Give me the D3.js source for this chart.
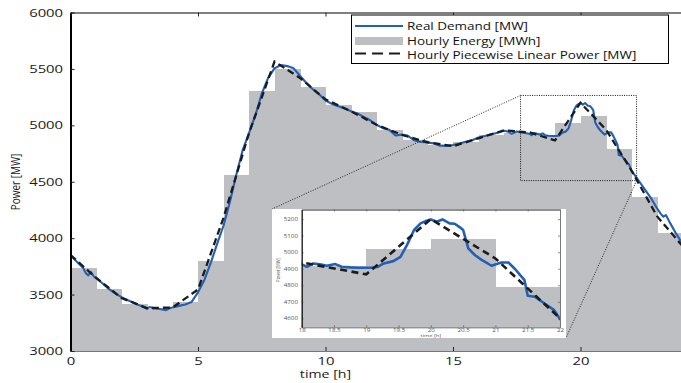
<!DOCTYPE html>
<html>
<head>
<meta charset="utf-8">
<script src="https://cdn.jsdelivr.net/npm/d3@7"></script>
<style>
  body { margin: 0; background: #fff; }
  svg { display: block; }
</style>
</head>
<body>
<div id="chart"></div>
<script>
// real demand (hour, MW)
const demandHours = [0, 0.25, 0.5, 0.6, 0.7, 0.8, 0.9, 1, 1.25, 1.5, 1.75, 2, 2.25, 2.5, 2.75,
  3, 3.1, 3.25, 3.5, 3.75, 3.9, 4, 4.25, 4.5, 4.75, 5, 5.25, 5.5, 5.75, 6, 6.25, 6.5, 6.75,
  7, 7.25, 7.5, 7.75, 8, 8.25, 8.5, 8.75, 9, 9.25, 9.5, 9.75, 10, 10.25, 10.5, 10.75,
  11, 11.25, 11.5, 11.75, 12, 12.25, 12.5, 12.75, 13, 13.2, 13.5, 13.75, 14, 14.25, 14.5, 14.75,
  15, 15.25, 15.5, 15.75, 16, 16.25, 16.5, 16.75, 17, 17.15, 17.3, 17.5, 17.75,
  18, 18.08, 18.18, 18.3, 18.39, 18.52, 18.62, 18.75, 18.86, 19.06, 19.17, 19.27, 19.42, 19.53,
  19.63, 19.74, 19.84, 19.92, 20, 20.09, 20.18, 20.29, 20.37, 20.45, 20.5, 20.58, 20.68, 20.8,
  20.94, 21.09, 21.2, 21.3, 21.45, 21.5, 21.61, 21.76, 21.91, 22,
  22.25, 22.5, 22.75, 23, 23.15, 23.25, 23.35, 23.5, 23.75, 24];
const demandMW = [3850, 3790, 3735, 3690, 3670, 3700, 3665, 3645, 3600, 3550, 3510, 3478, 3450, 3425, 3400,
  3373, 3390, 3380, 3372, 3362, 3380, 3385, 3400, 3413, 3435, 3520, 3630, 3780, 3950, 4110, 4320, 4560, 4780,
  4930, 5090, 5280, 5420, 5505, 5535, 5525, 5505, 5440, 5375, 5320, 5275, 5220, 5190, 5170, 5150,
  5125, 5105, 5075, 5045, 5005, 4975, 4960, 4910, 4918, 4910, 4865, 4852, 4848, 4840, 4820, 4818,
  4825, 4838, 4855, 4868, 4892, 4905, 4920, 4935, 4952, 4945, 4925, 4945, 4935,
  4926, 4912, 4932, 4925, 4918, 4928, 4912, 4908, 4906, 4906, 4910, 4932, 4946, 4972,
  5043, 5134, 5174, 5188, 5198, 5184, 5198, 5174, 5172, 5150, 5134, 5023, 4983, 4950,
  4918, 4938, 4938, 4900, 4831, 4737, 4731, 4690, 4650, 4596,
  4520, 4440, 4360, 4265, 4215, 4190, 4205, 4140, 4040, 3950];

// hourly energy, one value per hour 0..23
const energyMWh = [3736, 3550, 3418, 3373, 3432, 3801, 4562, 5305, 5500, 5340, 5181, 5117,
  4955, 4870, 4830, 4852, 4915, 4931, 4916, 5022, 5082, 4790, 4364, 4046];

// piecewise linear power at the full hours 0..24
const pwlMW = [3850, 3650, 3470, 3380, 3385, 3545, 4180, 4930, 5565, 5420, 5230, 5125, 5005,
  4915, 4850, 4815, 4885, 4955, 4938, 4866, 5200, 4962, 4600, 4195, 3930];

const xTicks = [0, 5, 10, 15, 20];
const yTicks = [3000, 3500, 4000, 4500, 5000, 5500, 6000];
const insetXTicks = [18, 18.5, 19, 19.5, 20, 20.5, 21, 21.5, 22];
const insetYTicks = [4600, 4700, 4800, 4900, 5000, 5100, 5200];
const zoomHours = [17.65, 22.2];
const zoomMW = [4510, 5265];
const insetHours = [18, 22];
const insetMW = [4546, 5258];
const legendLabels = ["Real Demand [MW]", "Hourly Energy [MWh]", "Hourly Piecewise Linear Power [MW]"];

const W = 681, H = 383;
const SX = 1.35; // the picture is stretched sideways, so is the text
const gray = "#bebfc3", blue = "#2160b3", dark = "#1b1b1b";
const font = "'Open Sans', sans-serif";
const plain = d => String(d);

const demand = demandHours.map((h, i) => [h, demandMW[i]]);
const pwl = pwlMW.map((v, i) => [i, v]);
const bars = energyMWh.map((v, i) => ({ h0: i, h1: i + 1, v: v }));

const svg = d3.select("#chart").append("svg")
  .attr("width", W).attr("height", H)
  .style("font-family", font);

const x = d3.scaleLinear().domain([0, 24]).range([70.5, 682.5]);
const y = d3.scaleLinear().domain([3000, 6000]).range([351, 12.5]);

function stretch(sel) {
  sel.each(function () {
    const t = d3.select(this);
    const old = t.attr("transform") || "";
    t.attr("transform", old + ` scale(${SX},1)`);
  });
}

// hourly energy bars
svg.append("g").selectAll("rect")
  .data(bars).enter().append("rect")
  .attr("x", d => x(d.h0))
  .attr("width", d => x(d.h1) - x(d.h0) + 0.5)
  .attr("y", d => y(d.v))
  .attr("height", d => y(3000) - y(d.v))
  .attr("fill", gray)
  .attr("shape-rendering", "crispEdges");

const line = d3.line().x(d => x(d[0])).y(d => y(d[1]));

svg.append("path").datum(demand)
  .attr("d", line)
  .attr("fill", "none").attr("stroke", blue).attr("stroke-width", 2.1)
  .attr("stroke-linejoin", "round");

svg.append("path").datum(pwl)
  .attr("d", line)
  .attr("fill", "none").attr("stroke", dark).attr("stroke-width", 2.3)
  .attr("stroke-dasharray", "7,4");

// axes
const xAxis = svg.append("g")
  .attr("transform", `translate(0,${y(3000)})`)
  .call(d3.axisBottom(x).tickValues(xTicks).tickFormat(plain)
    .tickSizeInner(-4).tickSizeOuter(0).tickPadding(6));
const yAxis = svg.append("g")
  .attr("transform", `translate(${x(0)},0)`)
  .call(d3.axisLeft(y).tickValues(yTicks).tickFormat(plain)
    .tickSizeInner(-4).tickSizeOuter(0).tickPadding(5.5));
svg.append("g")
  .attr("transform", `translate(0,${y(6000)})`)
  .call(d3.axisTop(x).tickValues(xTicks).tickSizeInner(-4).tickSizeOuter(0).tickFormat(""));

[xAxis, yAxis].forEach(a => {
  a.selectAll("text").attr("font-size", 11).attr("fill", "#1a1a1a").attr("font-family", font).call(stretch);
});
xAxis.select(".domain").attr("stroke", "#777");
yAxis.select(".domain").attr("stroke", "#000").attr("stroke-width", 2);
svg.selectAll(".tick line").attr("stroke", "#222");

svg.append("text")
  .attr("transform", `translate(${x(10)},378) scale(${SX},1)`)
  .attr("text-anchor", "middle").attr("font-size", 10.5).attr("fill", "#1a1a1a")
  .text("time [h]");
svg.append("text")
  .attr("transform", `translate(20,182) rotate(-90) scale(1,${SX})`)
  .attr("text-anchor", "middle").attr("font-size", 10).attr("fill", "#1a1a1a")
  .text("Power [MW]");

// zoom box on the main plot
svg.append("rect")
  .attr("x", x(zoomHours[0])).attr("y", y(zoomMW[1]))
  .attr("width", x(zoomHours[1]) - x(zoomHours[0]))
  .attr("height", y(zoomMW[0]) - y(zoomMW[1]))
  .attr("fill", "none").attr("stroke", "#111").attr("stroke-width", 1)
  .attr("stroke-dasharray", "1,1.3");

// inset
const inset = { left: 272, top: 209, right: 566, bottom: 338 };
const ix = d3.scaleLinear().domain(insetHours).range([301.7, 560]);
const iy = d3.scaleLinear().domain(insetMW).range([327.3, 209.5]);

svg.append("line")
  .attr("x1", x(zoomHours[0])).attr("y1", y(zoomMW[1]))
  .attr("x2", inset.left).attr("y2", inset.top)
  .attr("stroke", "#222").attr("stroke-dasharray", "1,1.5");
svg.append("line")
  .attr("x1", x(zoomHours[1])).attr("y1", y(zoomMW[0]))
  .attr("x2", inset.right).attr("y2", inset.bottom)
  .attr("stroke", "#222").attr("stroke-dasharray", "1,1.5");

svg.append("rect")
  .attr("x", inset.left).attr("y", inset.top)
  .attr("width", inset.right - inset.left).attr("height", inset.bottom - inset.top)
  .attr("fill", "#fff");

svg.append("clipPath").attr("id", "inclip").append("rect")
  .attr("x", ix(18)).attr("y", iy(insetMW[1]))
  .attr("width", ix(22) - ix(18)).attr("height", iy(insetMW[0]) - iy(insetMW[1]));

const ig = svg.append("g").attr("clip-path", "url(#inclip)");
ig.selectAll("rect")
  .data(bars).enter().append("rect")
  .attr("x", d => ix(d.h0))
  .attr("width", d => ix(d.h1) - ix(d.h0) + 0.5)
  .attr("y", d => iy(d.v))
  .attr("height", d => Math.max(0, iy(insetMW[0]) - iy(d.v)))
  .attr("fill", gray)
  .attr("shape-rendering", "crispEdges");

const iline = d3.line().x(d => ix(d[0])).y(d => iy(d[1]));
ig.append("path").datum(demand)
  .attr("d", iline)
  .attr("fill", "none").attr("stroke", blue).attr("stroke-width", 2.6)
  .attr("stroke-linejoin", "round");
ig.append("path").datum(pwl)
  .attr("d", iline)
  .attr("fill", "none").attr("stroke", dark).attr("stroke-width", 2.6)
  .attr("stroke-dasharray", "7,4.5");

const ixAxis = svg.append("g")
  .attr("transform", `translate(0,${iy(insetMW[0])})`)
  .call(d3.axisBottom(ix).tickValues(insetXTicks).tickFormat(plain)
    .tickSizeInner(-2).tickSizeOuter(0).tickPadding(1.5));
const iyAxis = svg.append("g")
  .attr("transform", `translate(${ix(18)},0)`)
  .call(d3.axisLeft(iy).tickValues(insetYTicks).tickFormat(plain)
    .tickSizeInner(-2).tickSizeOuter(0).tickPadding(2.8));
const itAxis = svg.append("g")
  .attr("transform", `translate(0,${iy(insetMW[1])})`)
  .call(d3.axisTop(ix).tickValues(insetXTicks).tickSizeInner(-2).tickSizeOuter(0).tickFormat(""));
const irAxis = svg.append("g")
  .attr("transform", `translate(${ix(22)},0)`)
  .call(d3.axisRight(iy).tickValues(insetYTicks).tickSizeInner(-2).tickSizeOuter(0).tickFormat(""));

[ixAxis, iyAxis].forEach(a => {
  a.selectAll("text").attr("font-size", 4.6).attr("fill", "#555").attr("font-family", font).call(stretch);
});
iyAxis.select(".domain").attr("stroke", "#111").attr("stroke-width", 1.3);
itAxis.select(".domain").attr("stroke", "#222");
ixAxis.select(".domain").attr("stroke", "#666");
irAxis.select(".domain").attr("stroke", "#777");
[ixAxis, iyAxis, itAxis, irAxis].forEach(a => a.selectAll(".tick line").attr("stroke", "#444").attr("stroke-width", 0.6));

svg.append("text")
  .attr("transform", `translate(${(ix(18) + ix(22)) / 2},336.5) scale(${SX},1)`)
  .attr("text-anchor", "middle").attr("font-size", 4.2).attr("fill", "#555")
  .text("time [h]");
svg.append("text")
  .attr("transform", `translate(280,270) rotate(-90) scale(1,${SX})`)
  .attr("text-anchor", "middle").attr("font-size", 4.2).attr("fill", "#555")
  .text("Power [MW]");

// legend
const lg = svg.append("g");
lg.append("rect")
  .attr("x", 351.5).attr("y", 15).attr("width", 317).attr("height", 48.5)
  .attr("fill", "#fff").attr("stroke", "#000").attr("stroke-width", 1);
lg.append("line").attr("x1", 355).attr("x2", 403).attr("y1", 26).attr("y2", 26)
  .attr("stroke", blue).attr("stroke-width", 2);
lg.append("rect").attr("x", 355).attr("y", 37).attr("width", 48).attr("height", 8)
  .attr("fill", gray);
lg.append("line").attr("x1", 355).attr("x2", 403).attr("y1", 53.5).attr("y2", 53.5)
  .attr("stroke", dark).attr("stroke-width", 2.2).attr("stroke-dasharray", "11,6");
const baselines = [29.5, 44.5, 58.5];
lg.selectAll("text.lab")
  .data(legendLabels).enter().append("text")
  .attr("class", "lab")
  .attr("transform", (d, i) => `translate(407,${baselines[i]}) scale(${SX},1)`)
  .attr("font-size", 10).attr("fill", "#111")
  .text(d => d);
</script>
</body>
</html>
